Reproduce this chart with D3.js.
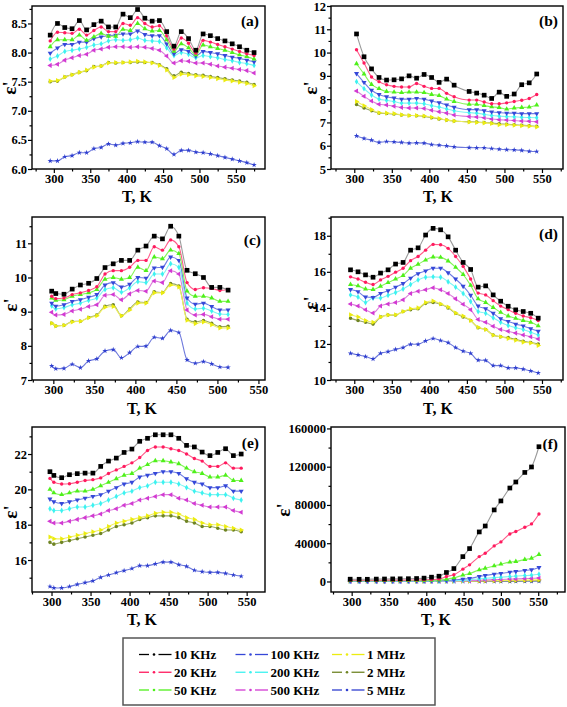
<!DOCTYPE html>
<html><head><meta charset="utf-8">
<script src="https://cdn.jsdelivr.net/npm/d3@7"></script>
<style>
body{margin:0;background:#fff}
svg{display:block}
text{font-family:"Liberation Serif","Times New Roman",serif;font-weight:bold;fill:#000}
</style>
</head><body>
<svg id="chart" width="567" height="707"></svg>
<script>
// ---------- data ----------
const freqLabels = ["10 KHz","20 KHz","50 KHz","100 KHz","200 KHz","500 KHz","1 MHz","2 MHz","5 MHz"];
const xTickVals = [300,350,400,450,500,550];

const aT = [295,305,315,325,335,345,355,365,375,385,395,405,415,425,435,445,455,465,475,485,495,505,515,525,535,545,555,565,575];
const aEps = [
 [8.30,8.50,8.43,8.41,8.55,8.39,8.48,8.54,8.44,8.44,8.66,8.60,8.74,8.59,8.54,8.55,8.36,8.11,8.36,8.24,8.04,8.32,8.29,8.24,8.20,8.15,8.10,8.04,8.00],
 [8.20,8.35,8.34,8.33,8.40,8.30,8.38,8.44,8.36,8.36,8.50,8.47,8.60,8.50,8.44,8.46,8.29,8.06,8.25,8.16,7.99,8.21,8.18,8.14,8.10,8.06,8.02,7.98,7.95],
 [8.10,8.22,8.22,8.22,8.30,8.21,8.27,8.33,8.28,8.28,8.40,8.38,8.50,8.41,8.37,8.38,8.22,8.02,8.15,8.08,7.96,8.13,8.10,8.07,8.04,8.00,7.96,7.93,7.89],
 [7.99,8.08,8.14,8.14,8.18,8.18,8.24,8.27,8.29,8.30,8.32,8.32,8.37,8.31,8.29,8.29,8.15,7.98,8.05,8.02,7.94,8.02,8.00,7.98,7.95,7.92,7.90,7.87,7.84],
 [7.89,7.94,8.02,8.04,8.06,8.09,8.13,8.15,8.20,8.22,8.21,8.22,8.25,8.21,8.20,8.19,8.08,7.95,8.00,7.97,7.91,7.95,7.93,7.91,7.88,7.86,7.83,7.81,7.78],
 [7.78,7.80,7.87,7.91,7.95,7.97,8.04,8.06,8.09,8.10,8.10,8.09,8.10,8.09,8.07,8.04,7.94,7.82,7.86,7.85,7.82,7.82,7.80,7.77,7.75,7.73,7.71,7.69,7.65],
 [7.51,7.52,7.58,7.62,7.66,7.70,7.75,7.77,7.82,7.83,7.83,7.84,7.85,7.84,7.82,7.78,7.70,7.57,7.63,7.62,7.60,7.59,7.57,7.55,7.53,7.51,7.49,7.47,7.43],
 [7.50,7.51,7.58,7.62,7.66,7.69,7.76,7.77,7.83,7.82,7.83,7.83,7.84,7.83,7.83,7.79,7.72,7.60,7.66,7.64,7.62,7.61,7.59,7.57,7.55,7.53,7.51,7.49,7.45],
 [6.14,6.14,6.21,6.23,6.28,6.28,6.35,6.37,6.43,6.41,6.44,6.45,6.47,6.46,6.46,6.40,6.35,6.25,6.32,6.32,6.29,6.28,6.26,6.23,6.20,6.17,6.14,6.11,6.07]
];
const aYTicks = [6.0,6.5,7.0,7.5,8.0,8.5];

const bT = [303,313,323,333,343,353,363,373,383,393,403,413,423,433,453,463,473,483,493,503,513,523,533,543];
const bEps = [
 [10.80,9.82,9.30,8.93,8.82,8.83,8.87,9.00,8.90,9.06,8.93,8.72,8.86,8.60,8.33,8.26,8.17,8.03,8.30,8.12,8.22,8.62,8.70,9.08],
 [10.12,9.55,8.95,8.75,8.62,8.55,8.52,8.52,8.67,8.55,8.46,8.46,8.25,8.10,7.96,7.96,7.88,7.80,7.80,7.84,7.90,7.95,8.03,8.20],
 [9.52,9.08,8.63,8.45,8.33,8.30,8.28,8.30,8.30,8.28,8.20,8.15,8.00,7.90,7.78,7.78,7.72,7.67,7.64,7.57,7.62,7.64,7.66,7.75],
 [9.10,8.72,8.38,8.20,8.10,8.05,8.00,8.00,8.03,8.00,7.92,7.85,7.75,7.65,7.55,7.55,7.50,7.45,7.42,7.40,7.40,7.38,7.38,7.38],
 [8.75,8.45,8.18,8.00,7.95,7.90,7.83,7.83,7.83,7.80,7.72,7.66,7.58,7.50,7.42,7.40,7.35,7.30,7.27,7.25,7.24,7.22,7.21,7.20],
 [8.35,8.12,7.92,7.78,7.75,7.70,7.64,7.62,7.62,7.60,7.52,7.46,7.40,7.32,7.25,7.23,7.20,7.15,7.12,7.10,7.08,7.06,7.05,7.03],
 [7.90,7.72,7.55,7.42,7.40,7.38,7.33,7.30,7.30,7.28,7.22,7.17,7.10,7.06,7.02,7.00,6.98,6.95,6.90,6.90,6.88,6.86,6.84,6.80],
 [7.77,7.62,7.50,7.40,7.38,7.36,7.32,7.30,7.29,7.26,7.20,7.15,7.10,7.06,7.03,7.02,7.00,6.97,6.94,6.92,6.90,6.88,6.86,6.83],
 [6.42,6.31,6.24,6.14,6.18,6.16,6.14,6.11,6.12,6.11,6.05,6.02,5.99,5.95,5.92,5.91,5.91,5.88,5.85,5.83,5.82,5.80,5.76,5.75]
];
const bYTicks = [5,6,7,8,9,10,11,12];

const cT = [298,303,313,323,333,343,353,363,373,383,393,403,413,423,433,443,453,463,473,483,493,503,513];
const cEps = [
 [9.60,9.53,9.51,9.66,9.78,9.83,9.97,10.29,10.40,10.50,10.50,10.80,10.92,11.21,11.13,11.50,11.21,10.21,10.11,10.00,9.71,9.71,9.63],
 [9.45,9.38,9.40,9.50,9.55,9.62,9.73,10.10,10.20,10.20,10.30,10.50,10.50,10.90,10.80,11.10,10.90,9.85,9.65,9.70,9.68,9.62,9.65],
 [9.40,9.33,9.35,9.45,9.50,9.55,9.65,9.95,10.00,9.95,10.00,10.30,10.20,10.60,10.55,10.80,10.70,9.60,9.45,9.45,9.40,9.30,9.30],
 [9.25,9.16,9.20,9.30,9.35,9.42,9.50,9.78,9.85,9.72,9.80,10.00,9.98,10.28,10.30,10.60,10.50,9.40,9.22,9.25,9.15,9.05,9.05],
 [9.17,9.08,9.12,9.20,9.25,9.33,9.40,9.65,9.70,9.57,9.70,9.88,9.85,10.10,10.10,10.40,10.30,9.25,9.08,9.10,9.02,8.93,8.92],
 [8.98,8.90,8.92,9.02,9.07,9.15,9.20,9.48,9.50,9.35,9.52,9.62,9.60,9.90,9.85,10.20,10.10,9.05,8.90,8.92,8.85,8.78,8.78],
 [8.66,8.58,8.60,8.70,8.72,8.82,8.88,9.13,9.15,8.88,9.05,9.25,9.25,9.55,9.55,9.78,9.72,8.75,8.65,8.70,8.62,8.52,8.52],
 [8.66,8.58,8.60,8.71,8.72,8.83,8.90,9.16,9.20,8.88,9.08,9.28,9.27,9.58,9.56,9.82,9.75,8.78,8.70,8.74,8.66,8.56,8.57],
 [7.41,7.33,7.34,7.46,7.36,7.56,7.62,7.85,7.89,7.65,7.80,7.98,7.99,8.25,8.22,8.45,8.39,7.59,7.49,7.54,7.47,7.38,7.37]
];
const cYTicks = [7,8,9,10,11];

const dT = [295,305,315,325,335,345,355,365,375,385,395,405,415,425,435,445,455,465,475,485,495,505,515,525,535,545];
const dEps = [
 [16.11,16.00,15.83,15.70,15.93,16.11,16.43,16.52,17.20,17.33,18.04,18.41,18.33,17.94,17.20,16.52,16.13,15.15,15.22,14.72,14.37,14.09,13.89,13.80,13.70,13.43],
 [15.72,15.60,15.42,15.30,15.55,15.75,15.98,16.20,16.62,16.85,17.20,17.52,17.50,17.30,16.85,16.30,15.60,14.82,14.72,14.40,14.10,13.90,13.70,13.55,13.45,13.30],
 [15.30,15.22,15.05,15.02,15.20,15.40,15.60,15.80,16.20,16.42,16.65,16.82,16.80,16.60,16.25,15.85,15.25,14.50,14.30,14.02,13.75,13.55,13.42,13.30,13.20,13.00],
 [15.02,14.90,14.60,14.58,14.80,14.95,15.15,15.35,15.65,15.90,16.05,16.20,16.20,15.95,15.60,15.20,14.70,14.10,13.95,13.70,13.40,13.25,13.10,13.00,12.85,12.70],
 [14.72,14.60,14.30,14.55,14.55,14.70,14.85,15.05,15.30,15.55,15.70,15.72,15.70,15.45,15.15,14.80,14.35,13.80,13.70,13.45,13.20,13.02,12.90,12.80,12.65,12.50],
 [14.22,14.10,13.90,13.72,14.10,14.22,14.30,14.45,14.80,14.92,15.00,15.12,15.00,14.80,14.50,14.20,13.90,13.35,13.20,12.98,12.80,12.70,12.60,12.50,12.40,12.28],
 [13.62,13.50,13.30,13.20,13.50,13.60,13.62,13.80,13.95,14.00,14.30,14.38,14.22,14.05,13.72,13.55,13.30,12.92,12.80,12.48,12.40,12.30,12.20,12.10,12.05,11.92],
 [13.42,13.30,13.20,13.10,13.50,13.60,13.60,13.80,13.90,13.95,14.25,14.30,14.20,14.00,13.70,13.50,13.30,12.90,12.80,12.50,12.40,12.35,12.25,12.15,12.08,12.00],
 [11.48,11.39,11.30,11.17,11.48,11.57,11.70,11.80,11.98,11.98,12.17,12.30,12.19,12.07,11.80,11.60,11.48,11.10,11.09,10.80,10.80,10.67,10.67,10.60,10.50,10.39]
];
const dYTicks = [10,12,14,16,18];

const eT = [298,303,313,323,333,343,353,363,373,383,393,403,413,423,433,443,453,463,473,483,493,503,513,523,533,543];
const eEps = [
 [21.00,20.79,20.66,20.83,20.89,20.92,20.92,21.30,21.60,21.77,22.09,22.28,22.72,22.89,23.09,23.09,23.09,22.89,22.49,22.40,22.11,21.91,22.09,22.30,21.91,22.00],
 [20.62,20.40,20.30,20.32,20.40,20.50,20.55,20.65,20.90,21.10,21.30,21.50,21.80,22.20,22.40,22.40,22.30,22.20,22.00,21.75,21.60,21.30,21.30,21.50,21.20,21.20],
 [20.00,19.80,19.70,19.80,19.90,19.90,20.00,20.20,20.40,20.60,20.80,20.90,21.20,21.40,21.62,21.62,21.55,21.45,21.20,21.00,20.90,20.70,20.70,20.80,20.50,20.50],
 [19.45,19.30,19.20,19.30,19.40,19.50,19.60,19.70,19.90,20.10,20.30,20.40,20.70,20.80,20.90,21.00,21.00,20.90,20.60,20.40,20.30,20.10,20.10,20.20,19.90,19.90],
 [18.90,18.80,18.80,18.90,19.00,19.00,19.10,19.20,19.40,19.60,19.80,19.90,20.10,20.20,20.40,20.40,20.40,20.30,20.10,19.90,19.80,19.70,19.70,19.70,19.50,19.40],
 [18.20,18.10,18.10,18.20,18.30,18.40,18.50,18.60,18.80,18.90,19.10,19.20,19.40,19.50,19.60,19.70,19.70,19.50,19.40,19.20,19.10,19.00,19.00,19.00,18.80,18.70],
 [17.30,17.20,17.20,17.30,17.40,17.50,17.60,17.70,17.90,18.10,18.20,18.30,18.40,18.50,18.65,18.70,18.70,18.60,18.40,18.30,18.10,18.00,18.00,17.90,17.80,17.70],
 [17.00,16.90,17.00,17.10,17.20,17.30,17.40,17.50,17.70,17.90,18.00,18.10,18.30,18.40,18.50,18.50,18.50,18.40,18.20,18.10,17.90,17.90,17.80,17.70,17.70,17.60],
 [14.50,14.42,14.42,14.50,14.62,14.72,14.82,15.02,15.15,15.28,15.40,15.52,15.68,15.68,15.78,15.88,15.88,15.74,15.64,15.42,15.34,15.30,15.30,15.24,15.15,15.08]
];
const eYTicks = [16,18,20,22];

const fT = [298,310,321,333,344,355,365,376,387,397,407,417,427,437,449,458,471,479,491,500,512,520,532,541,551];
const fEps = [
 [2400,2300,2300,2500,2600,2700,2800,2900,3100,3500,4500,5500,9400,13500,26000,34400,51800,58000,74800,84200,97700,104000,114000,119700,140900],
 [1400,1300,1300,1300,1400,1400,1400,1500,1600,1700,2000,2500,5200,7000,12900,17400,26000,29500,37200,41400,49700,52200,56700,60200,70600],
 [900,900,900,900,900,900,1000,1000,1000,1100,1200,1400,2400,3800,6600,8300,12200,13900,16300,18100,20200,20900,23000,24300,28200],
 [500,500,500,500,500,500,500,600,600,600,700,800,1000,1500,2500,3100,5200,6300,7700,8300,9700,10400,11500,12200,14600],
 [300,300,300,300,300,300,300,300,400,400,400,500,600,800,1300,1700,2800,3300,4000,4500,5200,5600,6200,6600,7600],
 [200,200,200,200,200,200,200,200,200,200,300,300,400,500,700,900,1300,1500,1900,2100,2500,2700,3000,3200,3700],
 [150,150,150,150,150,150,150,150,200,200,200,200,250,300,400,500,700,800,900,1000,1200,1300,1400,1500,1700],
 [100,100,100,100,100,100,100,100,100,100,150,150,150,200,250,300,400,450,500,550,600,650,700,750,850],
 [50,50,50,50,50,50,50,50,50,50,50,60,60,70,80,90,110,120,130,140,150,160,170,180,200]
];
const fYTicks = [0,40000,80000,120000,160000];

// ---------- styles ----------
const markerColors = ["#000000","#ff1a5e","#4ef01a","#3548d8","#3cf2f0","#d23ad2","#ecec10","#6f8424","#2f3fcf"];
const lineColors   = ["#9a9a9a","#ff5b8a","#86f55a","#6f7de4","#7ff5f3","#dc7ddc","#f0f060","#98a860","#6d78dc"];
const symbolDefs = [
  {type:d3.symbolSquare, size:22, rot:0},
  {type:d3.symbolCircle, size:9, rot:0},
  {type:d3.symbolTriangle, size:11, rot:0},
  {type:d3.symbolTriangle, size:11, rot:180},
  {type:d3.symbolDiamond, size:10, rot:0},
  {type:d3.symbolTriangle, size:11, rot:-90},
  {type:d3.symbolTriangle, size:11, rot:90},
  {type:d3.symbolCircle, size:10, rot:0},
  {type:d3.symbolStar, size:9, rot:0}
];

const panels = [
  {tag:"(a)", T:aT, eps:aEps, yTicks:aYTicks, fmt:d3.format(".1f"), box:[32,6,265,169], xd:[270,590], yd:[6.0,8.8],
   ylab:[16,88], xlab:[137,201.5], tagPos:[259,26]},
  {tag:"(b)", T:bT, eps:bEps, yTicks:bYTicks, fmt:d3.format("d"), box:[331,6,563,169], xd:[269,578], yd:[5,12],
   ylab:[317,88], xlab:[438,201.5], tagPos:[558,26]},
  {tag:"(c)", T:cT, eps:cEps, yTicks:cYTicks, fmt:d3.format("d"), box:[32,217,265,380], xd:[274,558], yd:[7,11.77],
   ylab:[17,305], xlab:[142,414], tagPos:[261,245]},
  {tag:"(d)", T:dT, eps:dEps, yTicks:dYTicks, fmt:d3.format("d"), box:[331,217,563,380], xd:[269,578], yd:[10,19.04],
   ylab:[317,303], xlab:[438,414], tagPos:[558,239]},
  {tag:"(e)", T:eT, eps:eEps, yTicks:eYTicks, fmt:d3.format("d"), box:[32,427,265,592], xd:[275,573.5], yd:[14.19,23.53],
   ylab:[17,512], xlab:[142,625], tagPos:[259,448]},
  {tag:"(f)", T:fT, eps:fEps, yTicks:fYTicks, fmt:d3.format("d"), box:[331,427,565,592], xd:[272.3,585.9], yd:[-11000,161500],
   ylab:[290,510], xlab:[436,625], tagPos:[558,449]}
];

const svg = d3.select("#chart");

function minorsOf(ticks, domain){
  const step = ticks[1]-ticks[0];
  const out = [];
  for (let v = ticks[0]-step/2; v <= domain[1]; v += step) if (v >= domain[0]) out.push(v);
  return out;
}

panels.forEach(p => {
  const [l,t,r,b] = p.box;
  const x = d3.scaleLinear().domain(p.xd).range([l,r]);
  const y = d3.scaleLinear().domain(p.yd).range([b,t]);
  const g = svg.append("g");

  const xMinor = minorsOf(xTickVals, p.xd);
  const yMinor = minorsOf(p.yTicks, p.yd);

  g.append("g").attr("transform",`translate(0,${b})`)
    .call(d3.axisBottom(x).tickValues(xTickVals).tickSize(4).tickPadding(1.5).tickFormat(d3.format("d")));
  g.append("g").attr("transform",`translate(0,${b})`)
    .call(d3.axisBottom(x).tickValues(xMinor).tickSize(2.5).tickFormat(""));
  g.append("g").attr("transform",`translate(${l},0)`)
    .call(d3.axisLeft(y).tickValues(p.yTicks).tickSize(4).tickPadding(1).tickFormat(p.fmt));
  g.append("g").attr("transform",`translate(${l},0)`)
    .call(d3.axisLeft(y).tickValues(yMinor).tickSize(2.5).tickFormat(""));
  g.selectAll(".domain").remove();
  g.selectAll(".tick line").attr("stroke","#000").attr("stroke-width",1.2);
  g.selectAll(".tick text").attr("font-size",12.5).attr("font-weight","bold")
    .attr("font-family",'"Liberation Serif","Times New Roman",serif');

  g.append("rect").attr("x",l).attr("y",t).attr("width",r-l).attr("height",b-t)
    .attr("fill","none").attr("stroke","#000").attr("stroke-width",1.4);

  const line = d3.line().x(d=>x(d[0])).y(d=>y(d[1])).curve(d3.curveMonotoneX);
  for (let i = p.eps.length-1; i >= 0; i--) {
    const pts = p.T.map((T,k)=>[T,p.eps[i][k]]);
    g.append("path").attr("d",line(pts)).attr("fill","none")
      .attr("stroke",lineColors[i]).attr("stroke-width",1.1);
    const s = symbolDefs[i];
    const sym = d3.symbol().type(s.type).size(s.size);
    g.append("g").selectAll("path").data(pts).join("path")
      .attr("d",sym)
      .attr("transform",d=>`translate(${x(d[0])},${y(d[1])}) rotate(${s.rot})`)
      .attr("fill",markerColors[i]);
  }

  g.append("text").attr("transform",`translate(${p.ylab[0]},${p.ylab[1]}) rotate(-90)`)
    .attr("text-anchor","middle").attr("font-size",19).text("ε'");
  g.append("text").attr("x",p.xlab[0]).attr("y",p.xlab[1]).attr("text-anchor","middle")
    .attr("font-size",16).text("T, K");
  g.append("text").attr("x",p.tagPos[0]).attr("y",p.tagPos[1]).attr("text-anchor","end")
    .attr("font-size",15.5).text(p.tag);
});

// ---------- legend ----------
const lg = svg.append("g");
lg.append("rect").attr("x",123).attr("y",638).attr("width",312).attr("height",67)
  .attr("fill","#fff").attr("stroke","#555").attr("stroke-width",1.5);
const colX = d3.scalePoint().domain([0,1,2]).range([139,332]);
const rowY = d3.scalePoint().domain([0,1,2]).range([654.5,690]);
freqLabels.forEach((lab,i) => {
  const c = Math.floor(i/3), rr = i%3;
  const x0 = colX(c), yy = rowY(rr);
  const col = markerColors[i];
  lg.append("line").attr("x1",x0).attr("x2",x0+10).attr("y1",yy).attr("y2",yy).attr("stroke",col).attr("stroke-width",1.3);
  lg.append("line").attr("x1",x0+19.5).attr("x2",x0+32.5).attr("y1",yy).attr("y2",yy).attr("stroke",col).attr("stroke-width",1.3);
  lg.append("circle").attr("cx",x0+15).attr("cy",yy).attr("r",1.3).attr("fill",col);
  lg.append("text").attr("x",x0+35).attr("y",yy+4.5).attr("font-size",13).text(lab);
});
</script>
</body></html>
